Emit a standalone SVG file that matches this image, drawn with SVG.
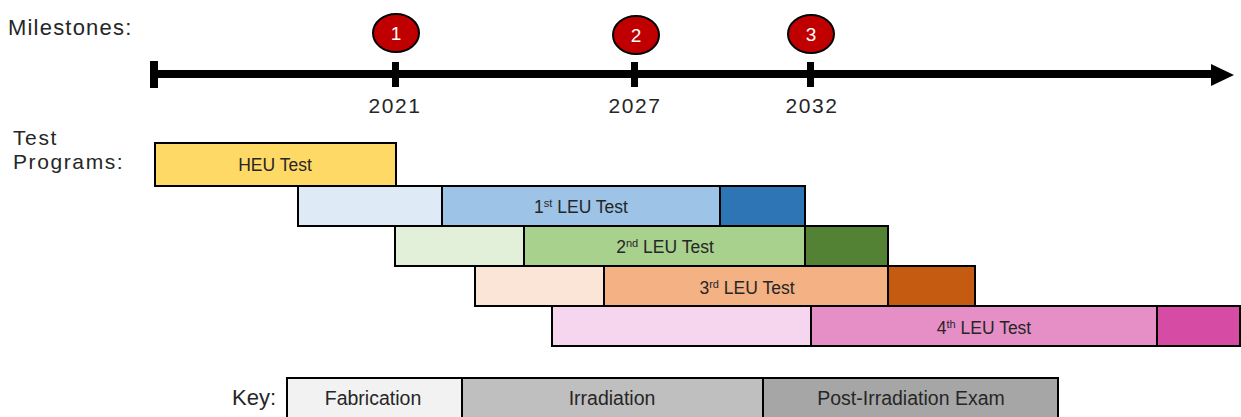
<svg xmlns="http://www.w3.org/2000/svg" width="1241" height="417" viewBox="0 0 1241 417">
<style>
text{font-family:"Liberation Sans",Arial,sans-serif}
.lbl{font-size:22px;fill:#262626;letter-spacing:1.2px}
.lbl2{font-size:21px;fill:#262626;letter-spacing:1.6px}
.yr{font-size:21px;fill:#262626;letter-spacing:1.6px;text-anchor:middle}
.ms ellipse{fill:#C00000;stroke:#000;stroke-width:2}
.ms text{font-size:19px;fill:#fff;text-anchor:middle}
.cell{stroke:#000;stroke-width:2}
.bt{font-size:17.5px;fill:#262626;text-anchor:middle}
.sup{font-size:11px}
.kt{font-size:19.5px;fill:#262626;text-anchor:middle}
.tick{fill:#000}
</style>
<text class="lbl" x="8" y="35">Milestones:</text>
<text class="lbl2" x="13" y="145">Test</text>
<text class="lbl2" x="13" y="169">Programs:</text>

<g id="timeline">
<rect class="tick" x="150" y="70" width="1063" height="8"/>
<polygon points="1211,64 1234,75 1211,86" fill="#000"/>
<rect class="tick" x="150" y="61" width="8" height="27"/>
<rect class="tick" x="392" y="62" width="7" height="25"/>
<rect class="tick" x="631" y="62" width="7" height="25"/>
<rect class="tick" x="807" y="62" width="7" height="25"/>
<text class="yr" x="395" y="113">2021</text>
<text class="yr" x="635" y="113">2027</text>
<text class="yr" x="812" y="113">2032</text>
</g>

<g id="milestone-1" class="ms"><ellipse cx="396" cy="33" rx="23" ry="19"/><text x="396" y="40">1</text></g>
<g id="milestone-2" class="ms"><ellipse cx="636" cy="35" rx="23" ry="19"/><text x="636" y="42">2</text></g>
<g id="milestone-3" class="ms"><ellipse cx="811" cy="34" rx="23" ry="19"/><text x="811" y="41">3</text></g>

<g id="heu-test">
<rect class="cell" x="155" y="143" width="241" height="43" fill="#FFD966"/>
<text class="bt" x="275" y="171">HEU Test</text>
</g>

<g id="leu-test-1">
<rect class="cell" x="298" y="186" width="144" height="40" fill="#DEEBF7"/>
<rect class="cell" x="442" y="186" width="278" height="40" fill="#9DC3E6"/>
<rect class="cell" x="720" y="186" width="85" height="40" fill="#2E75B6"/>
<text class="bt" x="581" y="213">1<tspan class="sup" dy="-6">st</tspan><tspan dy="6"> LEU Test</tspan></text>
</g>

<g id="leu-test-2">
<rect class="cell" x="395" y="226" width="129" height="40" fill="#E2F0D9"/>
<rect class="cell" x="524" y="226" width="281" height="40" fill="#A9D18E"/>
<rect class="cell" x="805" y="226" width="83" height="40" fill="#548235"/>
<text class="bt" x="665" y="253">2<tspan class="sup" dy="-6">nd</tspan><tspan dy="6"> LEU Test</tspan></text>
</g>

<g id="leu-test-3">
<rect class="cell" x="475" y="266" width="129" height="40" fill="#FBE5D6"/>
<rect class="cell" x="604" y="266" width="284" height="40" fill="#F4B183"/>
<rect class="cell" x="888" y="266" width="87" height="40" fill="#C55A11"/>
<text class="bt" x="747" y="294">3<tspan class="sup" dy="-6">rd</tspan><tspan dy="6"> LEU Test</tspan></text>
</g>

<g id="leu-test-4">
<rect class="cell" x="552" y="306" width="259" height="40" fill="#F6D5EE"/>
<rect class="cell" x="811" y="306" width="346" height="40" fill="#E68FC6"/>
<rect class="cell" x="1157" y="306" width="83" height="40" fill="#D64CA4"/>
<text class="bt" x="984" y="334">4<tspan class="sup" dy="-6">th</tspan><tspan dy="6"> LEU Test</tspan></text>
</g>

<g id="key">
<text class="lbl" x="232" y="405" style="letter-spacing:0">Key:</text>
<rect class="cell" x="287" y="378" width="175" height="45" fill="#F2F2F2"/>
<rect class="cell" x="462" y="378" width="301" height="45" fill="#BFBFBF"/>
<rect class="cell" x="763" y="378" width="295" height="45" fill="#A6A6A6"/>
<text class="kt" x="373" y="405">Fabrication</text>
<text class="kt" x="612" y="405">Irradiation</text>
<text class="kt" x="911" y="405">Post-Irradiation Exam</text>
</g>
</svg>
